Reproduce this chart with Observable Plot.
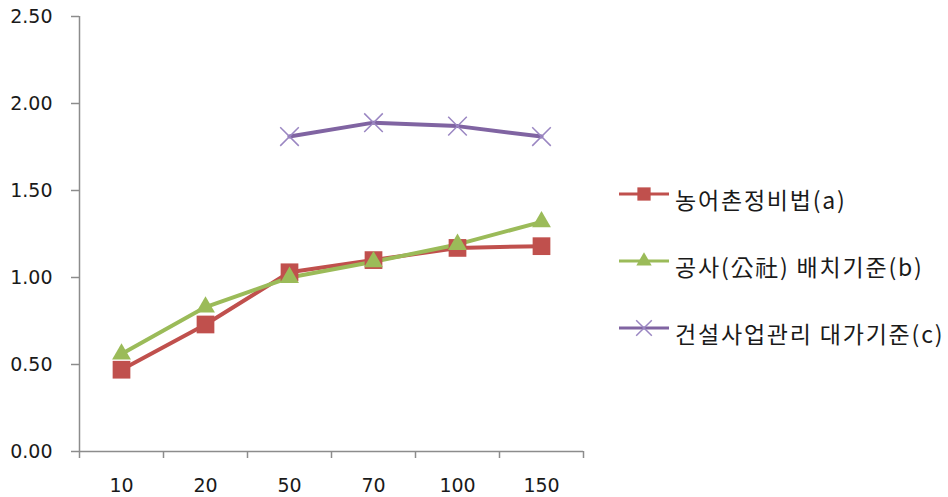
<!DOCTYPE html>
<html>
<head>
<meta charset="utf-8">
<script src="https://cdn.jsdelivr.net/npm/d3@7"></script>
<script src="https://cdn.jsdelivr.net/npm/@observablehq/plot@0.6"></script>
<style>
  html, body { margin: 0; padding: 0; background: #fff; }
  #wrap { position: relative; width: 948px; height: 497px; }
  #legend { position: absolute; left: 619px; top: 0; font-family: "Noto Sans CJK KR", "Noto Sans", sans-serif; font-size: 23px; letter-spacing: 1.8px; color: #1a1a1a; }
  .row { position: absolute; left: 0; display: flex; align-items: center; white-space: nowrap; }
  .row svg { display: block; }
  .row span { margin-left: 6px; position: relative; top: 5px; }
</style>
</head>
<body>
<div id="wrap"><div id="legend"></div></div>
<script>
const categories = ["10", "20", "50", "70", "100", "150"];
const seriesNames = ["농어촌정비법(a)", "공사(公社) 배치기준(b)", "건설사업관리 대가기준(c)"];
const valuesA = [0.47, 0.73, 1.03, 1.10, 1.17, 1.18];
const valuesB = [0.56, 0.83, 1.00, 1.09, 1.19, 1.32];
const valuesC = [null, null, 1.81, 1.89, 1.87, 1.81];
const yTicks = [0, 0.5, 1.0, 1.5, 2.0, 2.5];
const colors = ["#C0504D", "#9BBB59", "#8064A2"];
const markerColors = ["#C0504D", "#9BBB59", "#9A86C2"];

const rows = (vals) => vals.map((v, i) => ({i, cat: categories[i], value: v})).filter(d => d.value != null);
const dataA = rows(valuesA), dataB = rows(valuesB), dataC = rows(valuesC);
const n = categories.length;
const boundaries = categories.map((_, i) => i).concat([n]);
const centers = categories.map((_, i) => i + 0.5);

const axisGray = "#8c8c8c";

const chart = Plot.plot({
  width: 948,
  height: 497,
  marginLeft: 79,
  marginRight: 365,
  marginTop: 16,
  marginBottom: 46,
  style: {fontFamily: "'DejaVu Sans', Verdana, sans-serif", fontSize: "19px", color: "#1a1a1a", background: "transparent"},
  x: {type: "linear", domain: [0, n]},
  y: {type: "linear", domain: [0, 2.5]},
  marks: [
    Plot.axisY({ticks: yTicks, tickSize: 8, tickPadding: 19, tickFormat: d => d.toFixed(2), stroke: axisGray, fill: "#1a1a1a", strokeWidth: 1.5, label: null}),
    Plot.axisX({ticks: boundaries, tickSize: 7, tickFormat: () => "", stroke: axisGray, strokeWidth: 1.5, label: null}),
    Plot.axisX({ticks: centers, tickSize: 0, tickPadding: 27, tickFormat: v => categories[Math.round(v - 0.5)], fill: "#1a1a1a", label: null}),
    Plot.ruleX([0], {y1: 0, y2: 2.5, stroke: axisGray, strokeWidth: 1.5}),
    Plot.ruleY([0], {stroke: axisGray, strokeWidth: 1.5}),
    Plot.line(dataA, {x: d => d.i + 0.5, y: "value", stroke: colors[0], strokeWidth: 4}),
    Plot.line(dataB, {x: d => d.i + 0.5, y: "value", stroke: colors[1], strokeWidth: 4}),
    Plot.line(dataC, {x: d => d.i + 0.5, y: "value", stroke: colors[2], strokeWidth: 4}),
    Plot.dot(dataA, {x: d => d.i + 0.5, y: "value", symbol: "square", r: 10, fill: markerColors[0]}),
    Plot.dot(dataB, {x: d => d.i + 0.5, y: "value", symbol: "triangle", r: 7, fill: markerColors[1]}),
    Plot.dot(dataC, {x: d => d.i + 0.5, y: "value", symbol: "times", r: 8.5, stroke: markerColors[2], strokeWidth: 1.5, fill: "none"})
  ]
});
document.getElementById("wrap").prepend(chart);
chart.style.position = "absolute";
chart.style.left = "0";
chart.style.top = "0";

// legend
const legend = d3.select("#legend");
const legendTops = [192, 259, 326];
const symbols = [d3.symbolSquare, d3.symbolTriangle, d3.symbolTimes];
const sizes = [9.5 * 9.5 * Math.PI * 0.62, 6.8 * 6.8 * Math.PI * 0.7, 8 * 8 * Math.PI * 0.8];
seriesNames.forEach((name, k) => {
  const row = legend.append("div").attr("class", "row").style("top", (legendTops[k] - 15) + "px");
  const svg = row.append("svg").attr("width", 50).attr("height", 30);
  svg.append("line").attr("x1", 0).attr("x2", 50).attr("y1", 15).attr("y2", 15)
    .attr("stroke", colors[k]).attr("stroke-width", 3);
  const p = svg.append("path").attr("transform", "translate(25,15)")
    .attr("d", d3.symbol(symbols[k], sizes[k])());
  if (k === 2) p.attr("fill", "none").attr("stroke", markerColors[2]).attr("stroke-width", 1.5);
  else p.attr("fill", markerColors[k]);
  row.append("span").text(name);
});
</script>
</body>
</html>
